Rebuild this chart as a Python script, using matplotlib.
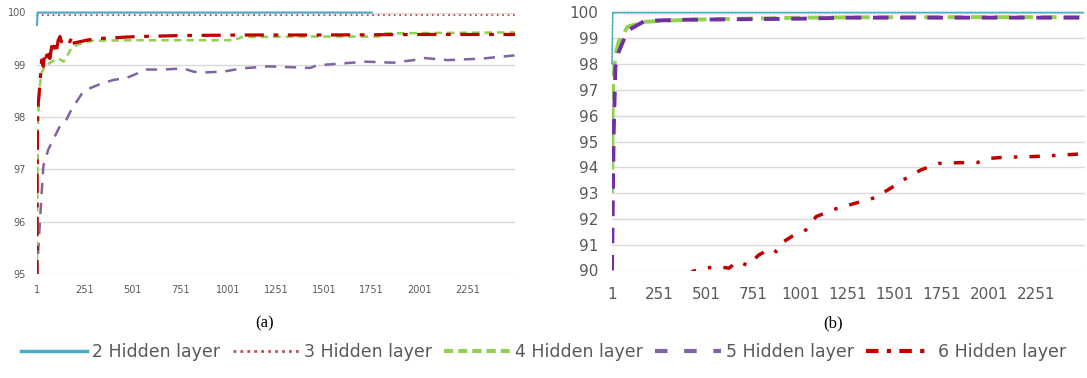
import matplotlib
matplotlib.use("Agg")
import matplotlib.pyplot as plt
from matplotlib.lines import Line2D

# ---------------- data ----------------
xtick_vals = [1, 251, 501, 751, 1001, 1251, 1501, 1751, 2001, 2251]
xtick_labels = [str(v) for v in xtick_vals]

# (a)
a_l2_x = [1, 4, 1751]
a_l2_y = [99.76, 100.0, 100.0]
a_l3_x = [1, 4, 2500]
a_l3_y = [99.93, 99.95, 99.95]
a_l4_x = [1, 3, 6, 12, 25, 41, 77, 113, 140, 185, 240, 293, 500, 1033, 1070, 1400, 1790, 1808, 2100, 2500]
a_l4_y = [95.0, 96.5, 97.8, 98.5, 98.85, 98.96, 99.06, 99.12, 99.06, 99.34, 99.42, 99.46, 99.47, 99.47, 99.53, 99.54, 99.54, 99.6, 99.61, 99.62]
a_l5_x = [1, 5, 17, 34, 60, 86, 121, 156, 182, 234, 269, 330, 400, 470, 522, 575, 662, 766, 819, 852, 977, 1068,
          1212, 1429, 1465, 1610, 1718, 1862, 1970, 2024, 2150, 2331, 2497]
a_l5_y = [95.0, 95.3, 96.04, 97.06, 97.38, 97.57, 97.83, 97.96, 98.15, 98.44, 98.54, 98.63, 98.71, 98.75, 98.83, 98.91,
          98.91, 98.93, 98.87, 98.85, 98.87, 98.93, 98.97, 98.94, 98.99, 99.03, 99.06, 99.04, 99.09, 99.13, 99.09, 99.12, 99.18]
a_l6_x = [1, 2, 4, 8, 11, 20, 25, 34, 42, 51, 60, 68, 78, 86, 95, 103, 112, 121, 129, 138, 155, 173, 185, 186, 260,
          312, 521, 760, 1100, 1500, 2000, 2500]
a_l6_y = [94.9, 97.0, 98.0, 98.3, 98.39, 98.84, 99.09, 98.97, 99.25, 99.15, 99.31, 99.12, 99.35, 99.22, 99.41, 99.28,
          99.47, 99.54, 99.44, 99.51, 99.47, 99.44, 99.54, 99.41, 99.47, 99.5, 99.54, 99.56, 99.57, 99.57, 99.58, 99.58]

# (b)
b_l2_x = [1, 5, 2500]
b_l2_y = [98.0, 100.0, 100.0]
b_l3_x = [1, 5, 2500]
b_l3_y = [98.0, 100.0, 100.0]
b_l4_x = [1, 4, 8, 20, 38, 84, 177, 400, 1000, 1500, 2500]
b_l4_y = [92.1, 96.0, 97.5, 98.4, 98.9, 99.45, 99.64, 99.72, 99.8, 99.82, 99.82]
b_l5_x = [1, 5, 10, 19, 38, 84, 177, 400, 1000, 1250, 2500]
b_l5_y = [90.0, 92.5, 95.3, 97.9, 98.5, 99.3, 99.68, 99.72, 99.76, 99.8, 99.8]
b_l6_x = [400, 430, 492, 566, 621, 668, 723, 779, 844, 872, 899, 955, 1029, 1084, 1195, 1288, 1399, 1492, 1566, 1640,
          1733, 1844, 1936, 2010, 2084, 2214, 2307, 2492]
b_l6_y = [89.8, 89.97, 90.09, 90.15, 90.09, 90.35, 90.19, 90.6, 90.86, 90.73, 91.06, 91.32, 91.57, 92.09, 92.41, 92.6,
          92.83, 93.25, 93.6, 93.9, 94.15, 94.18, 94.18, 94.35, 94.39, 94.41, 94.44, 94.52]

labels = ["2 Hidden layer", "3 Hidden layer", "4 Hidden layer", "5 Hidden layer", "6 Hidden layer"]
colors = ["#4bacc6", "#c0504d", "#92d050", "#8064a2", "#c00000"]

# ---------------- figure ----------------
W, H = 1087, 378
fig = plt.figure(figsize=(W / 100, H / 100), dpi=100)

def ax_at(x0, x1, ytop, ybot):
    return fig.add_axes([x0 / W, (H - ybot) / H, (x1 - x0) / W, (ybot - ytop) / H])

axa = ax_at(37, 515, 12.5, 274)
axb = ax_at(612, 1085, 12.5, 270.5)

grey = "#595959"

# panel (a)
lw = 1.8
axa.plot(a_l5_x, a_l5_y, color=colors[3], lw=lw, ls=(0, (4.5, 3.5)))
axa.plot(a_l4_x, a_l4_y, color=colors[2], lw=lw, ls=(0, (3, 2)))
axa.plot(a_l6_x, a_l6_y, color=colors[4], lw=2.3, ls=(0, (6, 3, 1.5, 3)))
axa.plot(a_l3_x, a_l3_y, color=colors[1], lw=1.3, ls=(0, (1, 2)), clip_on=False)
axa.plot(a_l2_x, a_l2_y, color=colors[0], lw=1.5, clip_on=False)
axa.set_ylim(95, 100)
axa.set_xlim(1, 2500)
axa.set_yticks([95, 96, 97, 98, 99, 100])
axa.tick_params(axis='y', labelsize=7, colors=grey, length=0, pad=8)
axa.tick_params(axis='x', labelsize=7, colors=grey, length=0, pad=8)

# panel (b)
lwb = 2.8
axb.plot(b_l6_x, b_l6_y, color=colors[4], lw=2.5, ls=(0, (3, 3.5, 1, 3.5)))
axb.plot(b_l4_x, b_l4_y, color=colors[2], lw=lwb, ls=(0, (4, 2)))
axb.plot(b_l5_x, b_l5_y, color="#7030a0", lw=lwb, ls=(0, (4, 3)))
axb.plot(b_l3_x, b_l3_y, color="#7f7f7f", lw=1.0, ls=(0, (1, 1.5)), clip_on=False)
axb.plot(b_l2_x, b_l2_y, color=colors[0], lw=1.0, clip_on=False)
axb.set_ylim(90, 100)
axb.set_xlim(1, 2510)
axb.set_yticks(list(range(90, 101)))
axb.tick_params(axis='y', labelsize=11, colors=grey, length=0, pad=10)
axb.tick_params(axis='x', labelsize=11, colors=grey, length=0, pad=12)

for ax in (axa, axb):
    ax.set_xticks(xtick_vals)
    ax.set_xticklabels(xtick_labels)
    for s in ax.spines.values():
        s.set_visible(False)
    ax.grid(axis='y', color="#d9d9d9", lw=1)
    ax.set_axisbelow(True)

fig.text(265 / W, 1 - 323 / H, "(a)", ha='center', va='center', fontsize=12, family="Liberation Serif")
fig.text(833 / W, 1 - 323 / H, "(b)", ha='center', va='center', fontsize=12, family="Liberation Serif")

handles = [
    Line2D([], [], color=colors[0], lw=2.5),
    Line2D([], [], color=colors[1], lw=2.0, ls=(0, (1, 1.5))),
    Line2D([], [], color=colors[2], lw=3.0, ls=(0, (2.2, 1.2))),
    Line2D([], [], color=colors[3], lw=3.0, ls=(0, (3, 4))),
    Line2D([], [], color=colors[4], lw=3.0, ls=(0, (3, 2, 1, 2))),
]
leg = fig.legend(handles, labels, loc='center', bbox_to_anchor=(0.5, 1 - 352 / H), ncol=5, frameon=False,
                 fontsize=12.5, handlelength=3.8, handletextpad=0.3, columnspacing=0.7)
for t in leg.get_texts():
    t.set_color(grey)

fig.savefig("out.png", dpi=100)
